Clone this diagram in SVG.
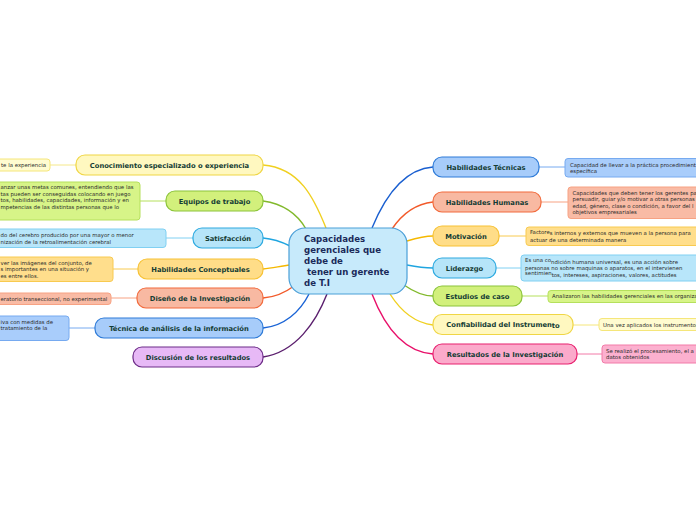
<svg xmlns="http://www.w3.org/2000/svg" width="696" height="520" viewBox="0 0 696 520">
<style>
.nd{stroke-width:1.2}
.lbl{font-family:"DejaVu Sans",Verdana,sans-serif;font-weight:bold;font-size:6.75px;fill:#143c34;text-anchor:middle}
.dt{font-family:"DejaVu Sans",Verdana,sans-serif;font-size:5.4px;fill:#2b2b2b}
.ctr{font-family:"DejaVu Sans",Verdana,sans-serif;font-weight:bold;font-size:8.6px;fill:#1b2a5a}
.c{fill:none;stroke-width:1.4}
.d{fill:none;stroke-width:1}
.yel{fill:#fff8c0;stroke:#f0d645}
.grn{fill:#d2f07c;stroke:#8cc43a}
.lbl2{fill:#b6e5f9;stroke:#2eaae0}
.org{fill:#ffdd88;stroke:#f7c235}
.sal{fill:#f8b9a2;stroke:#f26b3d}
.blu{fill:#a7ccfa;stroke:#2e7bd8}
.pur{fill:#e7b9f6;stroke:#6d2c88}
.pnk{fill:#fbaacb;stroke:#e8206f}
.yelD{fill:#fffbd0;stroke:#f5e67a}
.grnD{fill:#d7f488;stroke:#b5e05c}
.lblD{fill:#b8e6fa;stroke:#80d0f2}
.orgD{fill:#ffde8c;stroke:#f8ca50}
.salD{fill:#f9bba5;stroke:#f7a283}
.bluD{fill:#a9cdfb;stroke:#76aaf0}
.pnkD{fill:#fcb0cf;stroke:#f27aa8}
</style>
<g id="connectors">
<path class="c" stroke="#f0d020" d="M263,165 C300,168 314,198 326,228"/>
<path class="c" stroke="#82b92c" d="M263,201 C284,204 298,215 306,229"/>
<path class="c" stroke="#1fa5e0" d="M263,238 C275,239 282,242 290,246"/>
<path class="c" stroke="#f5b800" d="M263,269 C273,268 281,266 290,265"/>
<path class="c" stroke="#f25a2a" d="M263,298 C277,297 286,292 294,286"/>
<path class="c" stroke="#1a64d6" d="M263,328 C284,326 300,312 309,294"/>
<path class="c" stroke="#5b1f6e" d="M263,357 C296,352 316,322 327,294"/>
<path class="c" stroke="#1a5fd0" d="M372,228 C386,194 405,169 433,167"/>
<path class="c" stroke="#f25a2a" d="M392,229 C402,214 415,204 433,202"/>
<path class="c" stroke="#f5b800" d="M407,241 C417,238 424,236 433,236"/>
<path class="c" stroke="#1fa5e0" d="M407,265 C417,267 424,268 433,268"/>
<path class="c" stroke="#82b92c" d="M404,285 C414,292 423,296 433,296"/>
<path class="c" stroke="#f0d020" d="M390,294 C402,313 416,323 433,325"/>
<path class="c" stroke="#e8106a" d="M372,294 C386,330 405,352 433,354"/>
<line class="d" stroke="#f5e88a" x1="50" y1="165" x2="76" y2="165"/>
<line class="d" stroke="#b5e05c" x1="140" y1="201" x2="166" y2="201"/>
<line class="d" stroke="#80d0f2" x1="166" y1="238" x2="193" y2="238"/>
<line class="d" stroke="#f8ca50" x1="113" y1="269" x2="138" y2="269"/>
<line class="d" stroke="#f7a283" x1="111" y1="298" x2="137" y2="298"/>
<line class="d" stroke="#76aaf0" x1="69" y1="328" x2="95" y2="328"/>
<line class="d" stroke="#76aaf0" x1="539" y1="167" x2="565" y2="167"/>
<line class="d" stroke="#f7a283" x1="541" y1="202" x2="568" y2="202"/>
<line class="d" stroke="#f8ca50" x1="499" y1="236" x2="526" y2="236"/>
<line class="d" stroke="#80d0f2" x1="496" y1="268" x2="521" y2="268"/>
<line class="d" stroke="#b5e05c" x1="522" y1="296" x2="548" y2="296"/>
<line class="d" stroke="#f5e67a" x1="573" y1="325" x2="599" y2="325"/>
<line class="d" stroke="#f27aa8" x1="577" y1="354" x2="602" y2="354"/>
</g>
<g id="center">
<rect x="289" y="228" width="118" height="66" rx="16" fill="#c7eafb" stroke="#4a9fd8" stroke-width="1.2"/>
<text class="ctr" x="304" y="242">Capacidades</text>
<text class="ctr" x="304" y="253">gerenciales que</text>
<text class="ctr" x="304" y="264">debe de</text>
<text class="ctr" x="304" y="275" xml:space="preserve"> tener un gerente</text>
<text class="ctr" x="304" y="286">de T.I</text>
</g>
<g id="n-conocimiento"><rect class="nd yel" x="76" y="155" width="187" height="20" rx="9"/><text class="lbl" x="169.5" y="167.5">Conocimiento especializado o experiencia</text></g>
<g id="d-conocimiento"><rect class="yelD" x="-5" y="159" width="55" height="12" rx="3"/><text class="dt" x="1" y="166.8">te la experiencia</text></g>
<g id="n-equipos"><rect class="nd grn" x="166" y="191" width="97" height="20" rx="9"/><text class="lbl" x="214.5" y="203.5">Equipos de trabajo</text></g>
<g id="d-equipos"><rect class="grnD" x="-5" y="182" width="145" height="38" rx="3"/>
<text class="dt" x="0.5" y="189">anzar unas metas comunes, entendiendo que las</text>
<text class="dt" x="0.5" y="195.5">tas pueden ser conseguidas colocando en juego</text>
<text class="dt" x="0.5" y="202">tos, habilidades, capacidades, información y en</text>
<text class="dt" x="0.5" y="208.5">mpetencias de las distintas personas que lo</text></g>
<g id="n-satisfaccion"><rect class="nd lbl2" x="193" y="228" width="70" height="20" rx="9"/><text class="lbl" x="228" y="240.5">Satisfacción</text></g>
<g id="d-satisfaccion"><rect class="lblD" x="-5" y="229" width="171" height="18.5" rx="3"/>
<text class="dt" x="0.5" y="237">do del cerebro producido por una mayor o menor</text>
<text class="dt" x="0.5" y="243.5">nización de la retroalimentación cerebral</text></g>
<g id="n-conceptuales"><rect class="nd org" x="138" y="259" width="125" height="20" rx="9"/><text class="lbl" x="200.5" y="271.5">Habilidades Conceptuales</text></g>
<g id="d-conceptuales"><rect class="orgD" x="-5" y="257" width="118" height="24.5" rx="3"/>
<text class="dt" x="0.5" y="264.5">ver las imágenes del conjunto, de</text>
<text class="dt" x="0.5" y="271">s importantes en una situación y</text>
<text class="dt" x="0.5" y="277.5">es entre ellos.</text></g>
<g id="n-diseno"><rect class="nd sal" x="137" y="288" width="126" height="20" rx="9"/><text class="lbl" x="200" y="300.5">Diseño de la Investigación</text></g>
<g id="d-diseno"><rect class="salD" x="-5" y="293" width="116" height="11.5" rx="3"/><text class="dt" x="0.5" y="300.5">eratorio transeccional, no experimental</text></g>
<g id="n-tecnica"><rect class="nd blu" x="95" y="318" width="168" height="20" rx="9"/><text class="lbl" x="179" y="330.5">Técnica de análisis de la información</text></g>
<g id="d-tecnica"><rect class="bluD" x="-5" y="316" width="74" height="24.5" rx="3"/>
<text class="dt" x="0.5" y="324">iva con medidas de</text>
<text class="dt" x="0.5" y="330">tratamiento de la</text></g>
<g id="n-discusion"><rect class="nd pur" x="133" y="347" width="130" height="20" rx="9"/><text class="lbl" x="198" y="359.5">Discusión de los resultados</text></g>
<g id="n-tecnicas"><rect class="nd blu" x="433" y="157" width="106" height="20" rx="9"/><text class="lbl" x="486" y="169.5">Habilidades Técnicas</text></g>
<g id="d-tecnicas"><rect class="bluD" x="565" y="158.5" width="140" height="18.5" rx="3"/>
<text class="dt" x="570" y="166.5">Capacidad de llevar a la práctica procedimient</text>
<text class="dt" x="570" y="173">específica</text></g>
<g id="n-humanas"><rect class="nd sal" x="433" y="192" width="108" height="20" rx="9"/><text class="lbl" x="487" y="204.5">Habilidades Humanas</text></g>
<g id="d-humanas"><rect class="salD" x="568" y="187" width="140" height="31.5" rx="3"/>
<text class="dt" x="572.5" y="194.5">Capacidades que deben tener los gerentes pa</text>
<text class="dt" x="572.5" y="201">persuadir, guiar y/o motivar a otras personas</text>
<text class="dt" x="572.5" y="207.5">edad, género, clase o condición, a favor del l</text>
<text class="dt" x="572.5" y="214">objetivos empresariales</text></g>
<g id="n-motivacion"><rect class="nd org" x="433" y="226" width="66" height="20" rx="9"/><text class="lbl" x="466" y="238.5">Motivación</text></g>
<g id="d-motivacion"><rect class="orgD" x="526" y="227" width="180" height="18.5" rx="3"/>
<text class="dt" x="530" y="234">Factore<tspan dy="1.3">s internos y externos que mueven a la persona para</tspan></text>
<text class="dt" x="530" y="241.5">actuar de una determinada manera</text></g>
<g id="n-liderazgo"><rect class="nd lbl2" x="433" y="258" width="63" height="20" rx="9"/><text class="lbl" x="464.5" y="270.5">Liderazgo</text></g>
<g id="d-liderazgo"><rect class="lblD" x="521" y="255" width="185" height="26" rx="3"/>
<text class="dt" x="525" y="262">Es una co<tspan dy="1.5">ndición humana universal, es una acción sobre</tspan></text>
<text class="dt" x="525" y="269.5">personas no sobre maquinas o aparatos, en el intervienen</text>
<text class="dt" x="525" y="275">sentimien<tspan dy="1.5">tos, intereses, aspiraciones, valores, actitudes</tspan></text></g>
<g id="n-estudios"><rect class="nd grn" x="433" y="286" width="89" height="20" rx="9"/><text class="lbl" x="477.5" y="298.5">Estudios de caso</text></g>
<g id="d-estudios"><rect class="grnD" x="548" y="290.5" width="160" height="12" rx="3"/><text class="dt" x="552" y="298.3">Analizaron las habilidades gerenciales en las organiza</text></g>
<g id="n-confiabilidad"><rect class="nd yel" x="433" y="314.5" width="140" height="20" rx="9"/><text class="lbl" x="503" y="326.5">Confiabilidad del Instrumen<tspan dy="1.5">to</tspan></text></g>
<g id="d-confiabilidad"><rect class="yelD" x="599" y="318.5" width="110" height="12" rx="3"/><text class="dt" x="603" y="326.5">Una vez aplicados los instrumentos</text></g>
<g id="n-resultados"><rect class="nd pnk" x="433" y="344" width="144" height="20" rx="9"/><text class="lbl" x="505" y="356.5">Resultados de la Investigación</text></g>
<g id="d-resultados"><rect class="pnkD" x="602" y="345" width="110" height="18" rx="3"/>
<text class="dt" x="606" y="352.5">Se realizó el procesamiento, el a</text>
<text class="dt" x="606" y="359">datos obtenidos</text></g>
</svg>
